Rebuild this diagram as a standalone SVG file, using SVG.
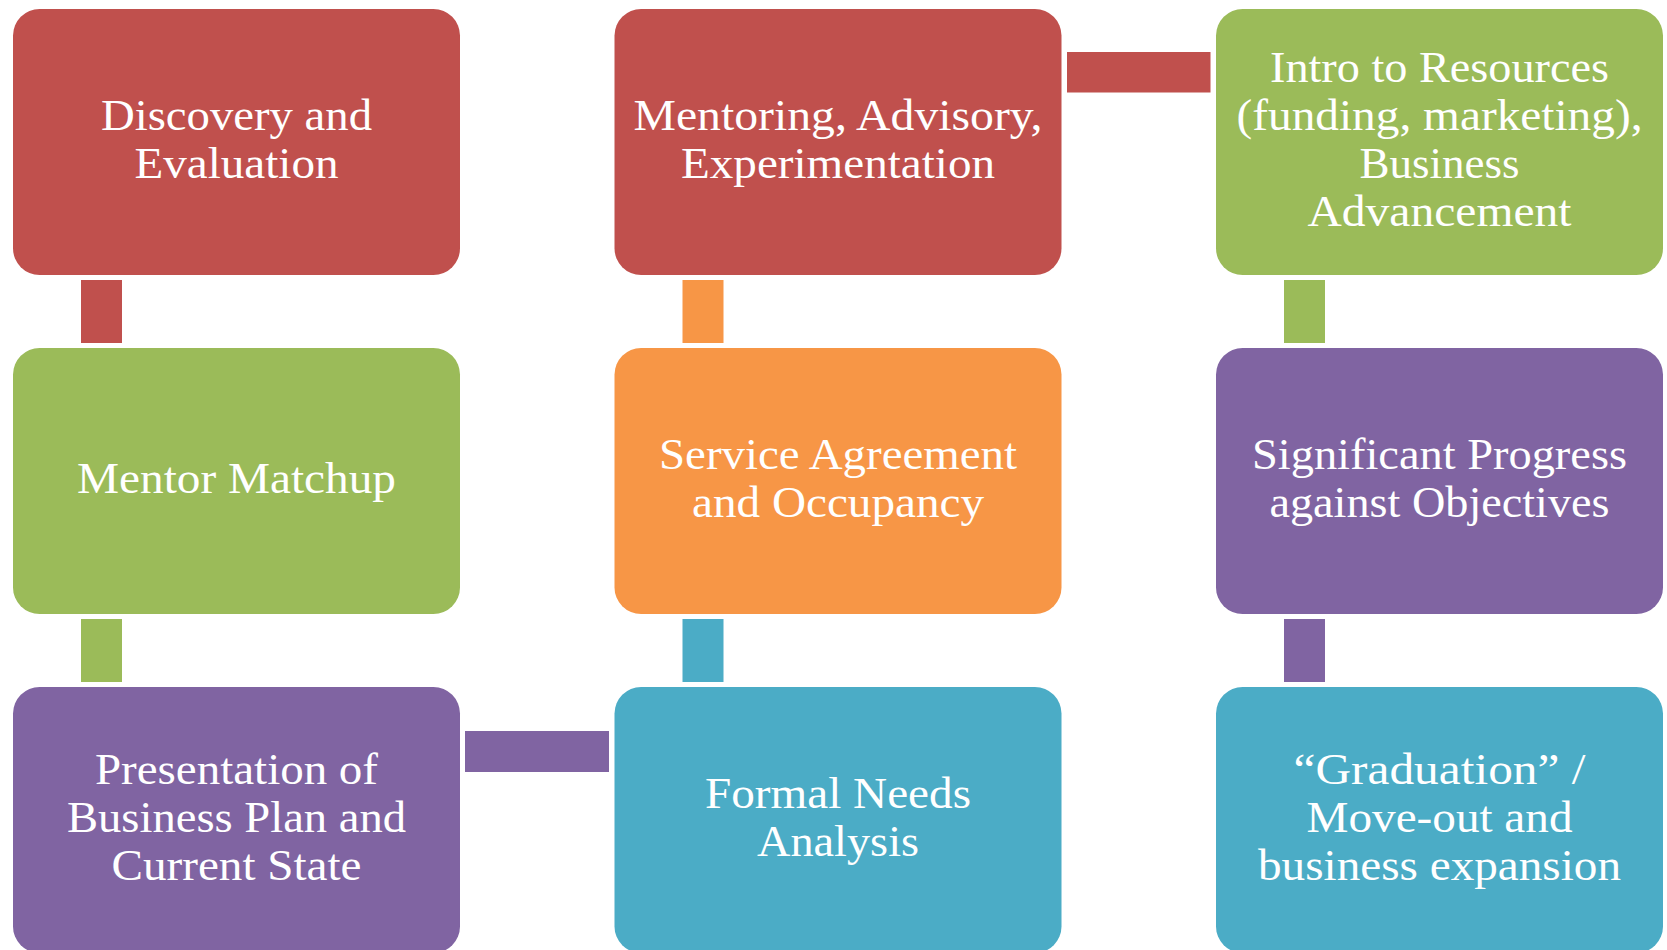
<svg xmlns="http://www.w3.org/2000/svg" width="1667" height="950" viewBox="0 0 1667 950">
<style>
.box{rx:26.6px;ry:26.6px}
.t{font-family:"Liberation Serif","Times New Roman",serif;font-size:44px;fill:#ffffff;text-anchor:middle}
.red{fill:#C0504D}.green{fill:#9BBB59}.orange{fill:#F79646}.purple{fill:#8064A2}.aqua{fill:#4BACC6}
</style>
<rect width="1667" height="950" fill="#ffffff"/>
<g id="connectors">
<rect class="red" x="81" y="280" width="41" height="63"/>
<rect class="green" x="81" y="619" width="41" height="63"/>
<rect class="purple" x="465" y="731" width="144" height="41"/>
<rect class="aqua" x="682.5" y="619" width="41" height="63"/>
<rect class="orange" x="682.5" y="280" width="41" height="63"/>
<rect class="red" x="1067" y="52" width="143.5" height="40.5"/>
<rect class="green" x="1284" y="280" width="41" height="63"/>
<rect class="purple" x="1284" y="619" width="41" height="63"/>
</g>
<g id="n1">
<rect class="box red" x="13" y="9" width="447" height="266"/>
<text class="t"><tspan x="236.5" y="130" textLength="271" lengthAdjust="spacingAndGlyphs">Discovery and</tspan><tspan x="236.5" y="178" textLength="204" lengthAdjust="spacingAndGlyphs">Evaluation</tspan></text>
</g>
<g id="n2">
<rect class="box green" x="13" y="348" width="447" height="266"/>
<text class="t"><tspan x="236.5" y="493" textLength="319" lengthAdjust="spacingAndGlyphs">Mentor Matchup</tspan></text>
</g>
<g id="n3">
<rect class="box purple" x="13" y="687" width="447" height="266"/>
<text class="t"><tspan x="236.5" y="784" textLength="283" lengthAdjust="spacingAndGlyphs">Presentation of</tspan><tspan x="236.5" y="832" textLength="339" lengthAdjust="spacingAndGlyphs">Business Plan and</tspan><tspan x="236.5" y="880" textLength="250" lengthAdjust="spacingAndGlyphs">Current State</tspan></text>
</g>
<g id="n4">
<rect class="box aqua" x="614.5" y="687" width="447" height="266"/>
<text class="t"><tspan x="838" y="808" textLength="266" lengthAdjust="spacingAndGlyphs">Formal Needs</tspan><tspan x="838" y="856" textLength="162" lengthAdjust="spacingAndGlyphs">Analysis</tspan></text>
</g>
<g id="n5">
<rect class="box orange" x="614.5" y="348" width="447" height="266"/>
<text class="t"><tspan x="838" y="469" textLength="358" lengthAdjust="spacingAndGlyphs">Service Agreement</tspan><tspan x="838" y="517" textLength="292" lengthAdjust="spacingAndGlyphs">and Occupancy</tspan></text>
</g>
<g id="n6">
<rect class="box red" x="614.5" y="9" width="447" height="266"/>
<text class="t"><tspan x="838" y="130" textLength="409" lengthAdjust="spacingAndGlyphs">Mentoring, Advisory,</tspan><tspan x="838" y="178" textLength="314" lengthAdjust="spacingAndGlyphs">Experimentation</tspan></text>
</g>
<g id="n7">
<rect class="box green" x="1216" y="9" width="447" height="266"/>
<text class="t"><tspan x="1439.5" y="82" textLength="339" lengthAdjust="spacingAndGlyphs">Intro to Resources</tspan><tspan x="1439.5" y="130" textLength="406" lengthAdjust="spacingAndGlyphs">(funding, marketing),</tspan><tspan x="1439.5" y="178" textLength="160" lengthAdjust="spacingAndGlyphs">Business</tspan><tspan x="1439.5" y="226" textLength="264" lengthAdjust="spacingAndGlyphs">Advancement</tspan></text>
</g>
<g id="n8">
<rect class="box purple" x="1216" y="348" width="447" height="266"/>
<text class="t"><tspan x="1439.5" y="469" textLength="375" lengthAdjust="spacingAndGlyphs">Significant Progress</tspan><tspan x="1439.5" y="517" textLength="340" lengthAdjust="spacingAndGlyphs">against Objectives</tspan></text>
</g>
<g id="n9">
<rect class="box aqua" x="1216" y="687" width="447" height="266"/>
<text class="t"><tspan x="1439.5" y="784" textLength="292" lengthAdjust="spacingAndGlyphs">“Graduation” /</tspan><tspan x="1439.5" y="832" textLength="266" lengthAdjust="spacingAndGlyphs">Move-out and</tspan><tspan x="1439.5" y="880" textLength="363" lengthAdjust="spacingAndGlyphs">business expansion</tspan></text>
</g>
</svg>
